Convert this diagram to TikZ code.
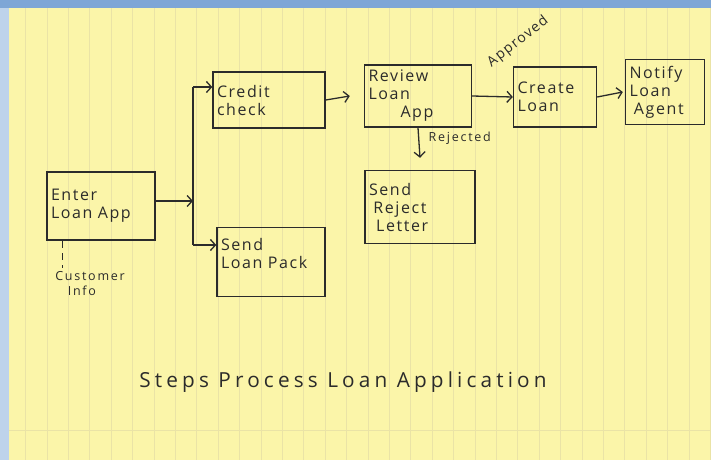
\documentclass[tikz,border=0pt]{standalone}
\usepackage{fontspec}
\setmainfont{Open Sans}[LetterSpace=10]
\usetikzlibrary{arrows.meta}
\definecolor{paper}{HTML}{FBF5A9}
\definecolor{rule}{HTML}{EAE3A6}
\definecolor{frame}{HTML}{7EA6D6}
\definecolor{ink}{HTML}{2B2B2B}
\tikzset{stepbox/.style = {shape=rectangle,draw=ink,line width=1.4pt,align=left,font=\fontsize{16}{18}\selectfont,text=ink,inner sep=4pt}}
\tikzset{edge/.style = {-{Straight Barb[length=5pt,width=11pt]},draw=ink,line width=1.3pt}}
\tikzset{wire/.style = {draw=ink,line width=1.3pt}}
\tikzset{note/.style = {text=ink,font=\fontsize{12.5}{15}\selectfont\addfontfeature{LetterSpace=14}}}

\begin{document}
\begin{tikzpicture}[x=1pt,y=-1pt]
          % paper and frame
          \useasboundingbox (0,0) rectangle (711,460);
          \fill[frame] (0,0) rectangle (711,460);
          \fill[frame!50!white] (0,8) rectangle (9,460);
          \fill[paper] (9,8) rectangle (711,460);
          \foreach \x in {25.6,47,...,711} \draw[rule,line width=0.8pt] (\x,8) -- (\x,460);
          \draw[rule,line width=0.8pt] (9,430) -- (711,430);

          \node[stepbox, text width=100pt, minimum height=68pt] (enter) at (101,206) {Enter\\Loan App};
          \node[stepbox, text width=104pt, minimum height=56pt] (credit) at (269,100) {Credit\\check};
          \node[stepbox, text width=99pt, minimum height=62pt] (review) at (418,96) {Review\\Loan\\\qquad App};
          \node[stepbox, text width=75pt, minimum height=60pt] (create) at (555,97) {Create\\Loan};
          \node[stepbox, text width=71pt, minimum height=65pt] (notify) at (665,92) {Notify\\Loan\\\;Agent};
          \node[stepbox, text width=102pt, minimum height=73pt] (reject) at (420,207) {Send\\\;Reject\\\;\,Letter};
          \node[stepbox, text width=100pt, minimum height=69pt] (pack) at (271,262) {Send\\Loan Pack\\~};
          \node[note, align=left] (info) at (90,284) {Customer\\\quad Info};

          \coordinate (bustop) at (193,87);
          \coordinate (busbot) at (193,245);
          \coordinate (tick) at (62,241);

          \draw[wire] (bustop) to (busbot);
          \draw[edge] ([yshift=5pt]enter.east) to ([yshift=5pt]enter.east -| bustop);
          \draw[edge] (bustop) to (bustop -| credit.west);
          \draw[edge] (busbot) to (busbot -| pack.west);
          \draw[edge] (credit.east) to ([xshift=-14pt]review.west);
          \draw[edge] (review.east) to (create.west);
          \draw[edge] (create.east) to ([xshift=-2pt]notify.west);
          \draw[edge] (review.south) to node [note, right, xshift=6pt, pos=0.35] {Rejected} ([yshift=12pt]reject.north);
          \draw[wire, line width=1pt, dash pattern=on 7pt off 5pt] (tick) to (tick |- info.north);

          \node[note, font=\fontsize{14}{16}\selectfont, rotate=38] (approved) at (518,42) {Approved};
          \node[text=ink, font=\huge\addfontfeature{LetterSpace=20}] (caption) at (343,382) {Steps Process Loan Application};
        \end{tikzpicture}
\end{document}
